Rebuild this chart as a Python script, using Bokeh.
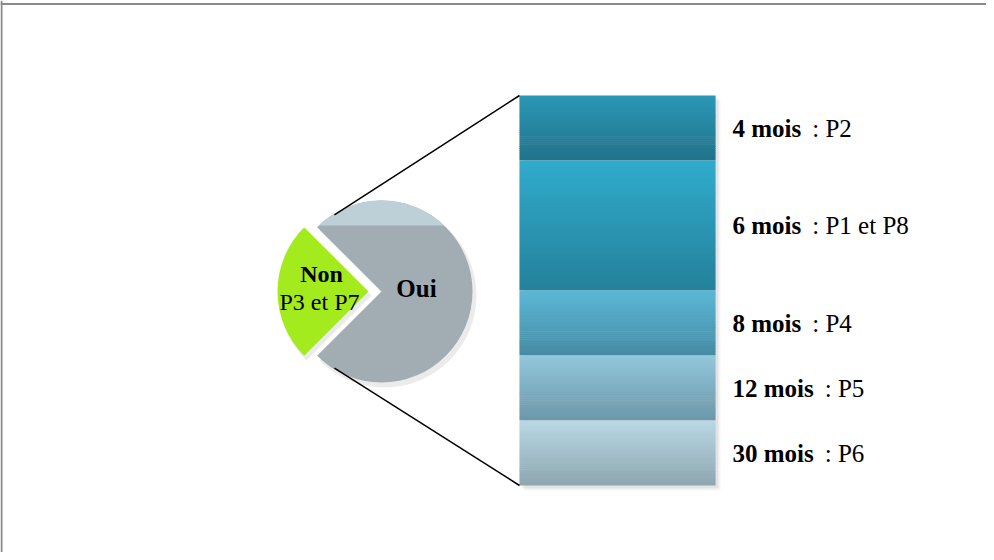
import numpy as np
from bokeh.plotting import figure
from bokeh.models import Range1d, Span
from bokeh.core.properties import value
from bokeh.embed import file_html
from bokeh.resources import INLINE

# ---------------- data ----------------
pie_labels = ["Non", "Oui"]
pie_sublabels = ["P3 et P7", ""]
pie_counts = [2, 6]
pie_colors = ["#a3eb1d", "#a1acb3"]

bar_durations = ["4 mois", "6 mois", "8 mois", "12 mois", "30 mois"]
bar_patients = ["P2", "P1 et P8", "P4", "P5", "P6"]
bar_counts = [1, 2, 1, 1, 1]
bar_top_colors = ["#2a98b6", "#31abcc", "#5cb8d6", "#93c7dc", "#b9d8e5"]
bar_bottom_colors = ["#22728a", "#24819b", "#468ba4", "#6c97a9", "#8ea6b0"]

# ---------------- layout ----------------
W, H = 986, 552
p = figure(width=W, height=H, x_range=Range1d(0, W), y_range=Range1d(0, H),
           x_axis_type=None, y_axis_type=None, toolbar_location=None,
           output_backend="svg", min_border=0)
p.grid.visible = False
p.outline_line_color = None
p.background_fill_color = "white"
p.border_fill_color = "white"

# frame lines (top and left only)
p.add_layout(Span(location=548.5, dimension="width", line_color="#8a8a8a", line_width=2))
p.add_layout(Span(location=1, dimension="height", line_color="#8a8a8a", line_width=2))

FONT = value("Liberation Serif")
FS = 25
FS_PIE = 24

def hex2rgb(h):
    h = h.lstrip("#")
    return np.array([int(h[i:i + 2], 16) for i in (0, 2, 4)], dtype=float)

def rgb2hex(c):
    return "#%02x%02x%02x" % tuple(int(round(v)) for v in c)

# ---------------- bar of pie ----------------
bx0, bx1 = 519, 715
btop = 457
unit = 65.0
total_bar = sum(bar_counts)
bbottom = btop - unit * total_bar

# soft shadow
for off, a in [(5, 0.04), (3, 0.07)]:
    p.quad(left=[bx0 + off], right=[bx1 + off], top=[btop - off], bottom=[bbottom - off],
           fill_color="black", fill_alpha=a, line_color=None)

lefts, rights, tops, bottoms, cols = [], [], [], [], []
seg_centers = []
cum = 0
for cnt, ct, cb in zip(bar_counts, bar_top_colors, bar_bottom_colors):
    t = btop - unit * cum
    b = btop - unit * (cum + cnt)
    seg_centers.append((t + b) / 2)
    n = int(round((t - b) / 2))
    c1, c2 = hex2rgb(ct), hex2rgb(cb)
    edges = np.linspace(t, b, n + 1)
    for j in range(n):
        f = (j + 0.5) / n
        lefts.append(bx0)
        rights.append(bx1)
        tops.append(edges[j])
        bottoms.append(edges[j + 1] - (0.6 if j < n - 1 else 0))
        cols.append(rgb2hex(c1 + (c2 - c1) * f))
    cum += cnt
p.quad(left=lefts, right=rights, top=tops, bottom=bottoms, fill_color=cols, line_color=None)

# bar labels: bold duration + regular patients
bold_w = {"0": .5, "1": .5, "2": .5, "3": .5, "4": .5, "5": .5, "6": .5, "7": .5, "8": .5, "9": .5,
          " ": .25, "m": .833, "o": .5, "i": .278, "s": .389}
lx = 732
bold_x = [lx] * len(bar_durations)
reg_x = [lx + sum(bold_w.get(ch, .5) for ch in d) * FS + 11 for d in bar_durations]
p.text(x=bold_x, y=seg_centers, text=bar_durations, text_font=FONT, text_font_size=f"{FS}px",
       text_font_style="bold", text_baseline="middle", text_align="left", text_color="black")
p.text(x=reg_x, y=seg_centers, text=[":  " + s for s in bar_patients], text_font=FONT,
       text_font_size=f"{FS}px", text_baseline="middle", text_align="left", text_color="black")

# ---------------- pie ----------------
cx, cy = 381, 261
R = 91
explode = 13
total_pie = sum(pie_counts)
spans = [2 * np.pi * c / total_pie for c in pie_counts]
a = np.pi - spans[0] / 2
starts, ends, centers = [], [], []
for i, s in enumerate(spans):
    starts.append(a)
    ends.append(a + s)
    mid = a + s / 2
    off = explode if i == 0 else 0
    centers.append((cx + off * np.cos(mid), cy + off * np.sin(mid)))
    a += s

# shadow
for (x, y), s0, e0 in zip(centers, starts, ends):
    p.wedge(x=[x + 3], y=[y - 4], radius=R + 1, start_angle=s0, end_angle=e0,
            fill_color="black", fill_alpha=0.08, line_color=None)

for (x, y), s0, e0, col in zip(centers, starts, ends, pie_colors):
    p.wedge(x=[x], y=[y], radius=R, start_angle=s0, end_angle=e0,
            fill_color=col, line_color=None)

# light top band on "Oui"
band_h = 66
th0 = np.arcsin(band_h / R)
th = np.linspace(th0, np.pi - th0, 60)
bxs = list(cx + R * np.cos(th))
bys = list(cy + R * np.sin(th))
p.patch(x=bxs, y=bys, fill_color="#bdcfd7", line_color=None)

# pie labels
nx, ny = centers[0]
p.text(x=[nx - 47], y=[cy + 18], text=[pie_labels[0]], text_font=FONT, text_font_size=f"{FS_PIE}px",
       text_font_style="bold", text_baseline="middle", text_align="center", text_color="black")
p.text(x=[nx - 49], y=[cy - 10], text=[pie_sublabels[0]], text_font=FONT, text_font_size=f"{FS_PIE}px",
       text_baseline="middle", text_align="center", text_color="black")
p.text(x=[cx + 35], y=[cy + 3], text=[pie_labels[1]], text_font=FONT, text_font_size=f"{FS_PIE + 1}px",
       text_font_style="bold", text_baseline="middle", text_align="center", text_color="black")

# connector lines
ang = np.deg2rad(121.5)
rr = R - 1
p.segment(x0=[cx + rr * np.cos(ang), cx + rr * np.cos(-ang)],
          y0=[cy + rr * np.sin(ang), cy + rr * np.sin(-ang)],
          x1=[bx0, bx0], y1=[btop, bbottom], line_color="black", line_width=1.5)

open("out.html", "w").write(file_html(p, INLINE))
